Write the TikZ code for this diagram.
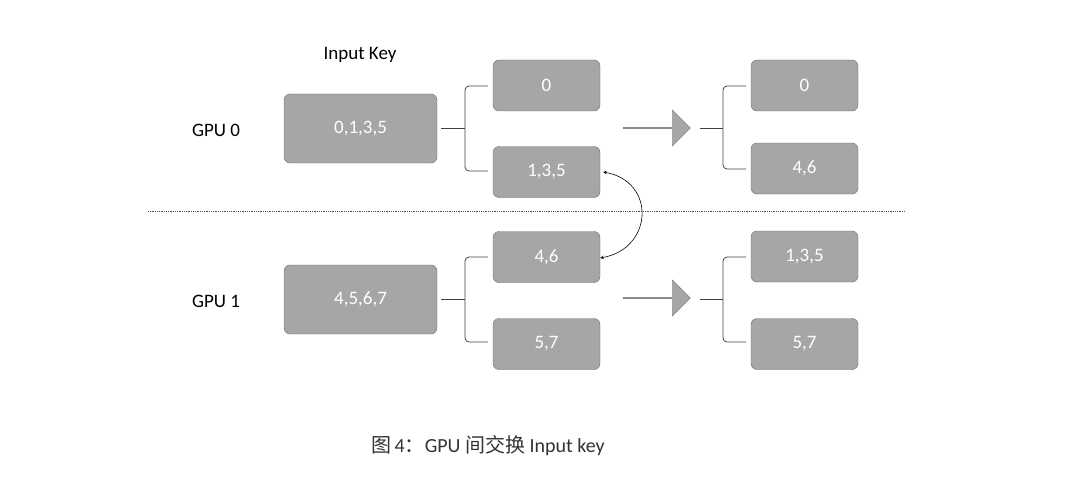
\documentclass[tikz,border=0pt]{standalone}
\usepackage{fontspec}
\setmainfont{Carlito}
\newfontfamily\cjk{Noto Sans CJK SC}
\usetikzlibrary{arrows, calc, shapes.arrows}

\tikzset{
  key/.style={draw=gray!85!black, fill=gray!70, rounded corners=6pt, text=white,
    font=\fontsize{19}{22}\selectfont, inner sep=0pt},
  lbl/.style={font=\fontsize{19}{22}\selectfont},
  brk/.style={draw=black!75, line width=0.8pt, rounded corners=4pt},
  blk/.style={single arrow, draw=gray!85!black, fill=gray!70, minimum width=36pt,
    single arrow head extend=6pt, single arrow head indent=0pt, minimum height=67pt, inner sep=0pt}
}

\begin{document}
\begin{tikzpicture}[x=1pt,y=-1pt]
        \useasboundingbox (0,0) rectangle (1080,487);

        \node[key, minimum width=153pt, minimum height=69pt] (in0) at (360.5,128.5) {0,1,3,5};
        \node[key, minimum width=153pt, minimum height=69pt] (in1) at (360.5,299.5) {4,5,6,7};

        \node[key, minimum width=107pt, minimum height=51pt] (a0) at (546.5,85.5) {0};
        \node[key, minimum width=107pt, minimum height=51pt] (a1) at (546.5,172) {1,3,5};
        \node[key, minimum width=107pt, minimum height=51pt] (b0) at (546.5,257) {4,6};
        \node[key, minimum width=107pt, minimum height=51pt] (b1) at (546.5,344) {5,7};

        \node[key, minimum width=107pt, minimum height=51pt] (c0) at (804.5,85.5) {0};
        \node[key, minimum width=107pt, minimum height=51pt] (c1) at (804.5,168.5) {4,6};
        \node[key, minimum width=107pt, minimum height=51pt] (d0) at (804.5,256.5) {1,3,5};
        \node[key, minimum width=107pt, minimum height=51pt] (d1) at (804.5,344) {5,7};

        \node[lbl] (g0) at (216,130) {GPU 0};
        \node[lbl] (g1) at (216,301) {GPU 1};
        \node[lbl] (ik) at (360,55) {Input Key};

        % brackets
        \draw[brk] (488,86) -- (465,86) -- (465,171) -- (488,171);
        \draw[brk] (441,128) -- (465,128);
        \draw[brk] (488,257) -- (465,257) -- (465,342) -- (488,342);
        \draw[brk] (441,299) -- (465,299);
        \draw[brk] (746,86) -- (723,86) -- (723,169) -- (746,169);
        \draw[brk] (700,128) -- (723,128);
        \draw[brk] (746,257) -- (723,257) -- (723,342) -- (746,342);
        \draw[brk] (700,299) -- (723,299);

        \node[blk] (s0) at (656.5,128) {};
        \node[blk] (s1) at (656.5,298) {};

        \draw[densely dotted, black!70, line width=0.8pt] (148,211) -- (905,211);

        \draw[<->, >=stealth, line width=0.6pt] ($(a1.east)+(3,0)$) to[out=-10, in=10, looseness=1.6] ($(b0.east)+(0,1)$);

        \node[font=\fontsize{20}{24}\selectfont, text=black!80] (cap) at (488,446) {{\cjk 图}\,4{\cjk ：}GPU {\cjk 间交换} Input key};
    \end{tikzpicture}
\end{document}
